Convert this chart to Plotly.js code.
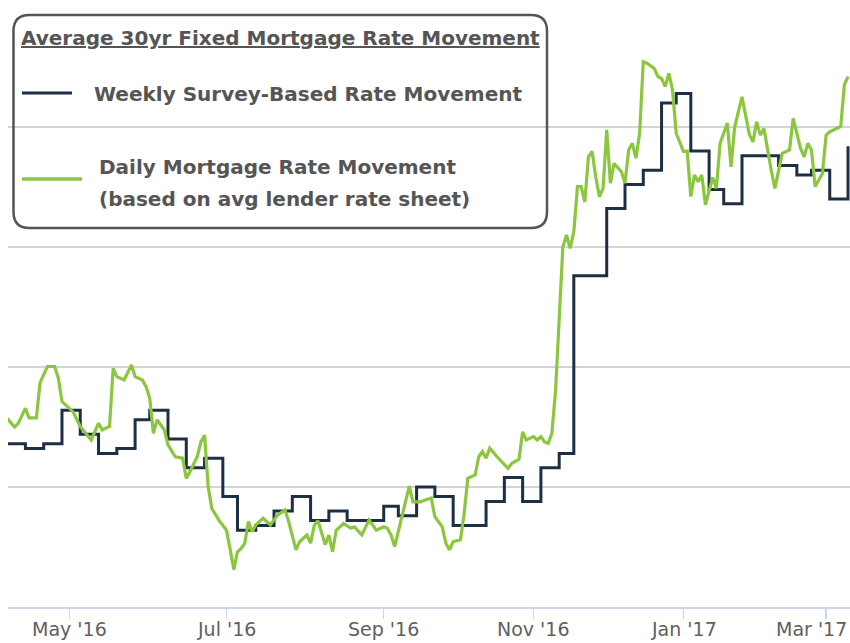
<!DOCTYPE html>
<html><head><meta charset="utf-8">
<script src="https://cdn.plot.ly/plotly-3.0.1.min.js"></script>
<style>html,body{margin:0;padding:0;background:#fff;}#chart{width:850px;height:643px;}</style>
</head><body><div id="chart"></div>
<script>
// Bond-market holidays skipped by the daily index
const holidays = ['2016-05-30','2016-07-04','2016-09-05','2016-10-10','2016-11-11','2016-11-24','2016-12-26','2017-01-02','2017-01-16','2017-02-20'];

// Weekly survey (Thursdays)
const weeklyDates = ['2016-04-07','2016-04-14','2016-04-21','2016-04-28','2016-05-05','2016-05-12','2016-05-19','2016-05-26','2016-06-02','2016-06-09','2016-06-16','2016-06-23','2016-06-30','2016-07-07','2016-07-14','2016-07-21','2016-07-28','2016-08-04','2016-08-11','2016-08-18','2016-08-25','2016-09-01','2016-09-08','2016-09-15','2016-09-22','2016-09-29','2016-10-06','2016-10-13','2016-10-20','2016-10-27','2016-11-03','2016-11-10','2016-11-17','2016-12-01','2016-12-08','2016-12-15','2016-12-22','2016-12-29','2017-01-05','2017-01-12','2017-01-19','2017-01-26','2017-02-02','2017-02-09','2017-02-16','2017-02-23','2017-03-02','2017-03-09'];
const weeklyRates = [3.59,3.58,3.59,3.66,3.61,3.57,3.58,3.64,3.66,3.60,3.54,3.56,3.48,3.41,3.42,3.45,3.48,3.43,3.45,3.43,3.43,3.46,3.44,3.50,3.48,3.42,3.42,3.47,3.52,3.47,3.54,3.57,3.94,4.08,4.13,4.16,4.30,4.32,4.20,4.12,4.09,4.19,4.19,4.17,4.15,4.16,4.10,4.21];

// Daily index: trading-day number (from 2016-04-07) and rate
const dailyDay = [0,2,3,5,6,8,9,11,13,14,15,18,20,23,25,26,28,29,30,32,34,35,37,38,39,40,41,43,44,46,48,49,50,52,53,54,55,56,58,60,61,62,63,64,65,66,67,68,70,72,74,76,77,79,80,82,83,84,85,86,87,88,89,90,92,94,95,97,99,101,103,104,105,106,108,109,110,111,113,114,116,117,119,120,121,122,124,125,126,128,129,130,131,132,134,137,138,140,141,142,144,145,146,147,148,149,150,151,152,153,154,155,156,157,158,159,160,161,162,163,164,165,166,168,169,170,171,172,173,174,175,177,178,179,180,181,182,183,184,185,186,187,188,189,190,191,193,194,195,197,198,199,201,203,204,205,206,207,209,210,212,214,215,217,218,219,220,221,223,224,225,227,228,229,230];
const dailyRate = [3.643,3.625,3.632,3.664,3.644,3.644,3.717,3.751,3.751,3.727,3.678,3.657,3.626,3.598,3.633,3.619,3.626,3.747,3.730,3.723,3.754,3.730,3.723,3.709,3.685,3.612,3.640,3.619,3.588,3.563,3.560,3.518,3.532,3.563,3.594,3.608,3.500,3.455,3.430,3.410,3.370,3.328,3.365,3.372,3.383,3.428,3.407,3.421,3.435,3.421,3.442,3.452,3.428,3.369,3.386,3.400,3.383,3.420,3.430,3.404,3.380,3.400,3.365,3.410,3.424,3.414,3.417,3.400,3.431,3.410,3.417,3.414,3.400,3.376,3.440,3.466,3.502,3.469,3.469,3.472,3.477,3.438,3.417,3.383,3.369,3.386,3.390,3.445,3.518,3.525,3.563,3.574,3.560,3.581,3.563,3.539,3.549,3.558,3.615,3.598,3.605,3.598,3.605,3.594,3.591,3.612,3.700,3.850,4.000,4.025,3.997,4.032,4.126,4.126,4.094,4.188,4.199,4.146,4.105,4.122,4.244,4.133,4.174,4.157,4.133,4.202,4.216,4.185,4.237,4.386,4.383,4.372,4.355,4.351,4.334,4.362,4.327,4.237,4.219,4.199,4.200,4.105,4.150,4.136,4.150,4.088,4.145,4.122,4.216,4.258,4.167,4.250,4.313,4.235,4.219,4.261,4.233,4.247,4.160,4.122,4.195,4.202,4.268,4.206,4.188,4.216,4.202,4.126,4.153,4.233,4.240,4.247,4.251,4.338,4.355];

const tickDates = ['2016-05-02','2016-07-01','2016-09-01','2016-11-01','2017-01-03','2017-03-01'];
const tickLabels = ["May '16","Jul '16","Sep '16","Nov '16","Jan '17","Mar '17"];

const legendTitle = 'Average 30yr Fixed Mortgage Rate Movement';
const weeklyName = 'Weekly Survey-Based Rate Movement';
const dailyName1 = 'Daily Mortgage Rate Movement';
const dailyName2 = '(based on avg lender rate sheet)';

function tradingCalendar(start, end, skip) {
  const out = [];
  const s = new Date(start + 'T00:00:00Z').getTime();
  const e = new Date(end + 'T00:00:00Z').getTime();
  for (let t = s; t <= e; t += 86400000) {
    const d = new Date(t);
    const wd = d.getUTCDay();
    const iso = d.toISOString().slice(0, 10);
    if (wd === 0 || wd === 6 || skip.indexOf(iso) >= 0) continue;
    out.push(iso);
  }
  return out;
}
const tradingDays = tradingCalendar('2016-04-07', '2017-03-10', holidays);
const dailyDates = dailyDay.map(i => tradingDays[i]);

const W = 850, H = 643, L = 8, R = 0, T = 7, B = 36;
const pw = W - L - R, ph = H - T - B;
const xp = px => (px - L) / pw;
const yp = py => (H - B - py) / ph;

const NAVY = '#1c2f45', GREEN = '#8cc63e', TXT = '#555555';

const traces = [
  { x: weeklyDates, y: weeklyRates, type: 'scatter', mode: 'lines', name: weeklyName,
    line: { color: NAVY, width: 3, shape: 'hv' }, hoverinfo: 'x+y' },
  { x: dailyDates, y: dailyRate, type: 'scatter', mode: 'lines', name: dailyName1,
    line: { color: GREEN, width: 3.2 }, hoverinfo: 'x+y' }
];

function roundRect(x0, y0, x1, y1, r) {
  const X = v => xp(v).toFixed(5), Y = v => yp(v).toFixed(5);
  return 'M' + X(x0 + r) + ',' + Y(y0) +
    ' L' + X(x1 - r) + ',' + Y(y0) +
    ' Q' + X(x1) + ',' + Y(y0) + ' ' + X(x1) + ',' + Y(y0 + r) +
    ' L' + X(x1) + ',' + Y(y1 - r) +
    ' Q' + X(x1) + ',' + Y(y1) + ' ' + X(x1 - r) + ',' + Y(y1) +
    ' L' + X(x0 + r) + ',' + Y(y1) +
    ' Q' + X(x0) + ',' + Y(y1) + ' ' + X(x0) + ',' + Y(y1 - r) +
    ' L' + X(x0) + ',' + Y(y0 + r) +
    ' Q' + X(x0) + ',' + Y(y0) + ' ' + X(x0 + r) + ',' + Y(y0) + ' Z';
}

const legFont = { family: 'DejaVu Sans, Verdana, sans-serif', size: 20, color: TXT, weight: 700 };
function ann(text, px, py) {
  return { text: text, x: xp(px), y: yp(py), xref: 'paper', yref: 'paper',
    xanchor: 'left', yanchor: 'middle', showarrow: false, font: legFont };
}

// x-axis labels as annotations so the last one can stay inside the picture
const tickFont = { family: 'DejaVu Sans, Verdana, sans-serif', size: 19, color: '#606060' };
const tickAnns = tickDates.map((d, i) => {
  const last = i === tickDates.length - 1;
  return { text: tickLabels[i], x: d, xref: 'x', y: yp(629), yref: 'paper',
    xanchor: last ? 'right' : 'center', xshift: last ? 23 : 0,
    yanchor: 'middle', showarrow: false, font: tickFont };
});

const layout = {
  width: W, height: H,
  margin: { l: L, r: R, t: T, b: B, pad: 0 },
  paper_bgcolor: '#ffffff', plot_bgcolor: '#ffffff',
  showlegend: false,
  xaxis: {
    type: 'date',
    range: ['2016-04-07 05:40', '2017-03-09 13:00'],
    rangebreaks: [{ bounds: ['sat', 'mon'] }, { values: holidays }],
    tickmode: 'array', tickvals: tickDates, ticktext: tickLabels,
    showticklabels: false,
    ticks: 'outside', ticklen: 10, tickwidth: 1.5, tickcolor: '#ccd6eb',
    showline: true, linecolor: '#ccd6eb', linewidth: 2,
    showgrid: false, zeroline: false
  },
  yaxis: {
    range: [3.25, 4.5], dtick: 0.25, tick0: 3.25,
    showticklabels: false, ticks: '',
    showgrid: true, gridcolor: '#d4d4d4', gridwidth: 2,
    zeroline: false, showline: false
  },
  shapes: [
    { type: 'path', xref: 'paper', yref: 'paper', path: roundRect(13.5, 15, 547, 228, 16),
      line: { color: '#555555', width: 2.5 }, fillcolor: 'rgba(0,0,0,0)', layer: 'above' },
    { type: 'line', xref: 'paper', yref: 'paper', x0: xp(22), x1: xp(72), y0: yp(93), y1: yp(93),
      line: { color: NAVY, width: 3 } },
    { type: 'line', xref: 'paper', yref: 'paper', x0: xp(22), x1: xp(82), y0: yp(179), y1: yp(179),
      line: { color: GREEN, width: 3.5 } }
  ],
  annotations: [
    ann('<u>' + legendTitle + '</u>', 19, 38),
    ann(weeklyName, 92, 94),
    ann(dailyName1, 97, 167),
    ann(dailyName2, 97, 199)
  ].concat(tickAnns)
};

Plotly.newPlot('chart', traces, layout, { displayModeBar: false, staticPlot: true });
</script></body></html>
